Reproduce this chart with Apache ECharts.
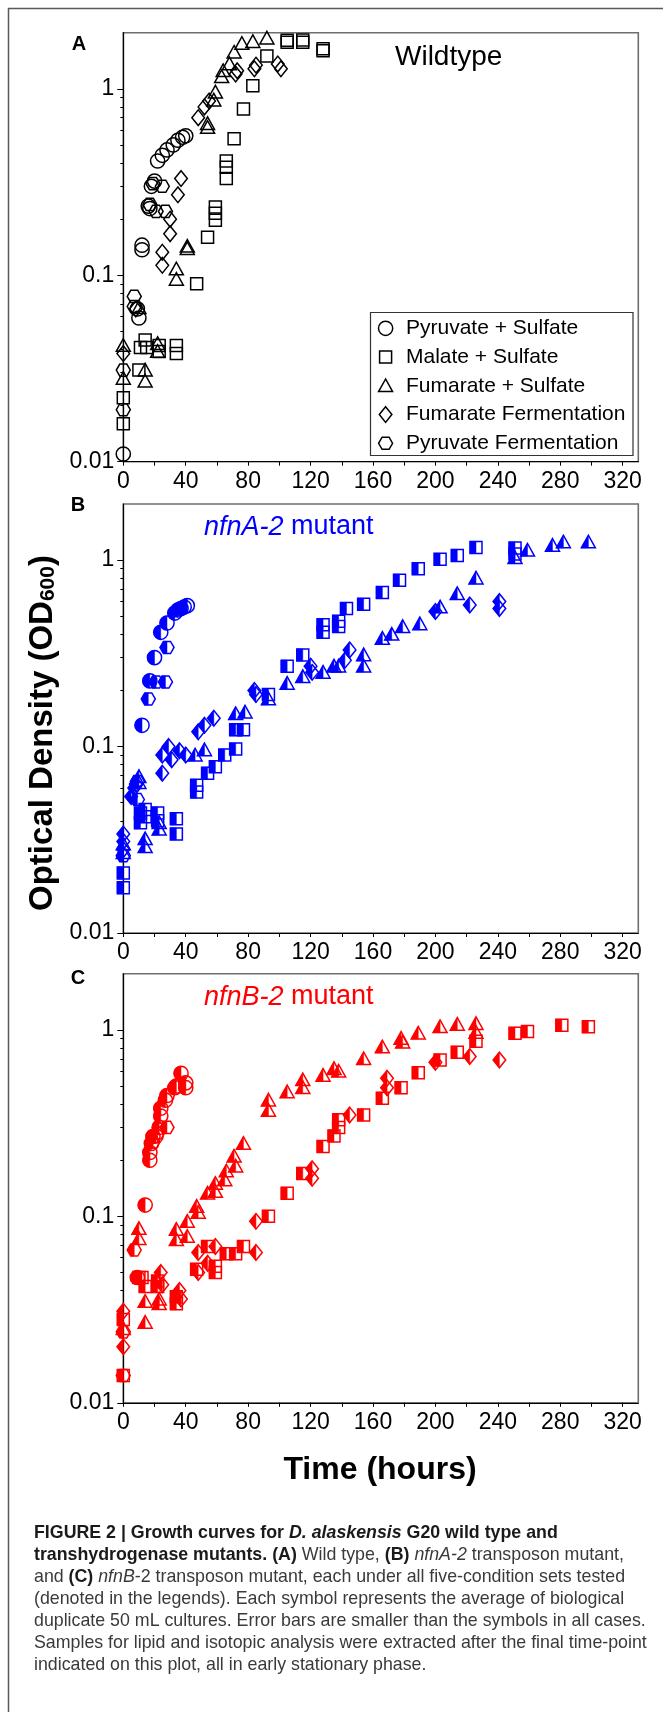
<!DOCTYPE html>
<html>
<head>
<meta charset="utf-8">
<script src="https://cdn.jsdelivr.net/npm/echarts@6/dist/echarts.min.js"></script>
<style>
  html, body { margin: 0; padding: 0; background: #ffffff; }
  #chart { width: 663px; height: 1712px; }
</style>
</head>
<body>
<div id="chart"></div>
<script>
// ---- axis ticks and labels ----
const xTickValues  = [0, 20, 40, 60, 80, 100, 120, 140, 160, 180, 200, 220, 240, 260, 280, 300, 320];
const xLabelValues = [0, 40, 80, 120, 160, 200, 240, 280, 320];
const yLabelValues = [0.01, 0.1, 1];
const yMinorValues = [0.02, 0.03, 0.04, 0.05, 0.06, 0.07, 0.08, 0.09, 0.2, 0.3, 0.4, 0.5, 0.6, 0.7, 0.8, 0.9];

// ---- growth conditions (categories) ----
const conditions = ['Pyruvate + Sulfate', 'Malate + Sulfate', 'Fumarate + Sulfate', 'Fumarate Fermentation', 'Pyruvate Fermentation'];
const markerKinds = ['circle', 'square', 'triangle', 'diamond', 'hexagon'];

// ---- (A) wild type: [time (h), OD600] ----
const wtPyruvateSulfate = [[0,0.011],[10,0.059],[9,0.066],[12,0.145],[12,0.137],[16,0.235],[17,0.228],[18,0.30],[20,0.32],[22,0.41],[25,0.44],[28,0.47],[32,0.50],[35,0.53],[38,0.55],[40,0.56]];
const wtMalateSulfate = [[0,0.016],[0,0.022],[10,0.031],[11,0.041],[14,0.045],[15,0.041],[23,0.039],[23,0.042],[34,0.042],[34,0.038],[47,0.09],[54,0.16],[59,0.197],[59,0.215],[59,0.232],[66,0.33],[66,0.38],[66,0.41],[71,0.54],[77,0.78],[83,1.04],[92,1.5],[105,1.82],[105,1.78],[115,1.83],[115,1.78],[128,1.64],[128,1.6]];
const wtFumarateSulfate = [[0,0.028],[0,0.042],[10,0.067],[14,0.031],[14,0.027],[22,0.043],[22,0.039],[34,0.108],[34,0.095],[41,0.143],[41,0.139],[54,0.62],[54,0.65],[58,0.87],[59,0.96],[63,1.16],[64,1.25],[68,1.36],[71,1.57],[76,1.75],[83,1.79],[92,1.87]];
const wtFumarateFermentation = [[0,0.038],[8,0.066],[25,0.133],[25,0.113],[30,0.167],[30,0.20],[35,0.27],[37,0.33],[48,0.70],[52,0.80],[55,0.86],[72,1.2],[73,1.25],[84,1.28],[85,1.34],[99,1.36],[101,1.28]];
const wtPyruvateFermentation = [[0,0.019],[0,0.031],[7,0.077],[7,0.068],[17,0.24],[19,0.31],[21,0.22],[25,0.30],[27,0.22]];

// ---- (B) nfnA-2 mutant ----
const nfnAPyruvateSulfate = [[12,0.13],[17,0.225],[20,0.30],[24,0.41],[28,0.46],[33,0.52],[35,0.54],[37,0.55],[39,0.56],[41,0.57]];
const nfnAMalateSulfate = [[0,0.021],[0,0.0175],[11,0.044],[11,0.039],[14,0.046],[14,0.042],[22,0.044],[22,0.04],[34,0.041],[34,0.034],[47,0.062],[47,0.057],[54,0.072],[59,0.078],[65,0.09],[72,0.097],[72,0.123],[77,0.123],[93,0.19],[105,0.27],[115,0.31],[128,0.45],[128,0.41],[138,0.47],[138,0.44],[143,0.55],[154,0.58],[166,0.67],[177,0.78],[189,0.9],[203,1.01],[214,1.06],[226,1.17],[251,1.16],[251,1.08]];
const nfnAFumarateSulfate = [[0,0.03],[0,0.027],[10,0.069],[10,0.064],[14,0.032],[14,0.029],[23,0.039],[23,0.036],[46,0.09],[52,0.096],[72,0.15],[78,0.153],[93,0.18],[105,0.218],[115,0.237],[128,0.25],[135,0.27],[138,0.27],[154,0.27],[154,0.31],[166,0.38],[172,0.4],[179,0.44],[190,0.455],[203,0.56],[214,0.66],[226,0.8],[251,1.03],[259,1.13],[275,1.2],[282,1.25],[298,1.25]];
const nfnAFumarateFermentation = [[0,0.034],[0,0.031],[0,0.028],[5,0.054],[7,0.06],[8,0.063],[25,0.09],[25,0.072],[29,0.1],[31,0.085],[36,0.095],[40,0.09],[48,0.12],[52,0.13],[58,0.142],[84,0.2],[85,0.19],[120,0.27],[121,0.25],[142,0.29],[145,0.33],[200,0.53],[222,0.575],[241,0.6],[241,0.55]];
const nfnAPyruvateFermentation = [[0,0.026],[9,0.052],[9,0.065],[16,0.18],[21,0.222],[27,0.222],[28,0.34]];

// ---- (C) nfnB-2 mutant ----
const nfnBPyruvateSulfate = [[9,0.047],[14,0.115],[17,0.2],[17,0.22],[18,0.246],[19,0.268],[21,0.27],[23,0.3],[24,0.345],[24,0.38],[27,0.42],[28,0.445],[33,0.49],[34,0.5],[37,0.585],[40,0.52],[40,0.49]];
const nfnBMalateSulfate = [[0,0.014],[0,0.028],[10,0.047],[12,0.047],[14,0.042],[22,0.045],[22,0.042],[34,0.037],[34,0.034],[47,0.052],[54,0.069],[59,0.05],[59,0.054],[66,0.063],[72,0.063],[77,0.069],[93,0.1],[105,0.133],[115,0.17],[128,0.237],[135,0.27],[138,0.33],[138,0.3],[154,0.35],[166,0.43],[178,0.49],[189,0.59],[203,0.69],[214,0.76],[226,0.87],[251,0.96],[259,0.98],[281,1.06],[298,1.04]];
const nfnBFumarateSulfate = [[0,0.025],[10,0.086],[10,0.076],[14,0.035],[14,0.027],[23,0.036],[23,0.034],[34,0.085],[34,0.075],[41,0.094],[41,0.078],[47,0.113],[48,0.105],[54,0.133],[59,0.15],[59,0.136],[65,0.157],[66,0.175],[71,0.21],[72,0.186],[77,0.246],[93,0.42],[93,0.37],[105,0.465],[115,0.54],[115,0.49],[128,0.57],[135,0.62],[138,0.6],[154,0.7],[166,0.81],[178,0.9],[179,0.86],[189,0.96],[203,1.04],[214,1.07],[226,1.08],[226,0.97]];
const nfnBFumarateFermentation = [[0,0.031],[0,0.02],[24,0.05],[25,0.043],[36,0.04],[37,0.036],[48,0.064],[48,0.05],[54,0.056],[59,0.069],[85,0.094],[85,0.064],[121,0.18],[121,0.16],[145,0.35],[169,0.55],[169,0.49],[200,0.67],[222,0.72],[241,0.69]];
const nfnBPyruvateFermentation = [[0,0.014],[0,0.024],[7,0.066],[19,0.25],[22,0.28],[28,0.30]];

const FONT = '"Liberation Sans", Arial, Helvetica, sans-serif';

const panels = [
  { color: '#000000', halfFill: false, top: 32.7,
    sets: [wtPyruvateSulfate, wtMalateSulfate, wtFumarateSulfate, wtFumarateFermentation, wtPyruvateFermentation] },
  { color: '#0000ff', halfFill: true, top: 504,
    sets: [nfnAPyruvateSulfate, nfnAMalateSulfate, nfnAFumarateSulfate, nfnAFumarateFermentation, nfnAPyruvateFermentation] },
  { color: '#ff0000', halfFill: true, top: 973.8,
    sets: [nfnBPyruvateSulfate, nfnBMalateSulfate, nfnBFumarateSulfate, nfnBFumarateFermentation, nfnBPyruvateFermentation] }
];

const PLOT_LEFT = 123.3, PLOT_W = 515, PLOT_H = 429;
const LW = 1.5;

// Marker outlines (optionally with the left half filled) around a pixel centre
function markerShapes(kind, cx, cy, color, half, z) {
  const line = { fill: 'none', stroke: color, lineWidth: LW };
  const solid = { fill: color, stroke: color, lineWidth: 0.5 };
  const out = [];
  if (kind === 'circle') {
    const r = 7.1;
    if (half) out.push({ type: 'sector', shape: { cx, cy, r0: 0, r, startAngle: Math.PI / 2, endAngle: Math.PI * 1.5 }, style: solid });
    out.push({ type: 'circle', shape: { cx, cy, r }, style: line });
  } else if (kind === 'square') {
    const a = 6;
    if (half) out.push({ type: 'rect', shape: { x: cx - a, y: cy - a, width: a, height: 2 * a }, style: solid });
    out.push({ type: 'rect', shape: { x: cx - a, y: cy - a, width: 2 * a, height: 2 * a }, style: line });
  } else if (kind === 'triangle') {
    const w = 7, t = 6.8, b = 5.8;
    if (half) out.push({ type: 'polygon', shape: { points: [[cx, cy - t], [cx - w, cy + b], [cx, cy + b]] }, style: solid });
    out.push({ type: 'polygon', shape: { points: [[cx, cy - t], [cx - w, cy + b], [cx + w, cy + b]] }, style: line });
  } else if (kind === 'diamond') {
    const w = 6.3, h = 7.8;
    if (half) out.push({ type: 'polygon', shape: { points: [[cx, cy - h], [cx - w, cy], [cx, cy + h]] }, style: solid });
    out.push({ type: 'polygon', shape: { points: [[cx, cy - h], [cx + w, cy], [cx, cy + h], [cx - w, cy]] }, style: line });
  } else {
    const r = 7, hh = r * 0.866;
    if (half) out.push({ type: 'polygon', shape: { points: [[cx, cy - hh], [cx - r / 2, cy - hh], [cx - r, cy], [cx - r / 2, cy + hh], [cx, cy + hh]] }, style: solid });
    out.push({ type: 'polygon', shape: { points: [[cx + r, cy], [cx + r / 2, cy - hh], [cx - r / 2, cy - hh], [cx - r, cy], [cx - r / 2, cy + hh], [cx + r / 2, cy + hh]] }, style: line });
  }
  if (z !== undefined) out.forEach(el => { el.z = z; });
  return out;
}

const grids = [], xAxes = [], yAxes = [], series = [];
panels.forEach((p, i) => {
  grids.push({ left: PLOT_LEFT, top: p.top, width: PLOT_W, height: PLOT_H, show: true,
    borderColor: '#6e6e6e', borderWidth: 1.6, backgroundColor: 'transparent', containLabel: false, outerBoundsMode: 'none' });
  xAxes.push({ gridIndex: i, type: 'value', min: 0, max: 330,
    axisLine: { show: true, onZero: false, lineStyle: { color: '#000', width: 1.2 } },
    axisTick: { show: true, length: 4, customValues: xTickValues, lineStyle: { color: '#000', width: 1 } },
    axisLabel: { customValues: xLabelValues, fontSize: 23, color: '#000', fontFamily: FONT, margin: 8 },
    splitLine: { show: false } });
  yAxes.push({ gridIndex: i, type: 'log', logBase: 10, min: 0.01, max: 2,
    axisLine: { show: true, onZero: false, lineStyle: { color: '#000', width: 1.2 } },
    axisTick: { show: true, length: 6, customValues: yLabelValues, lineStyle: { color: '#000', width: 1 } },
    axisLabel: { customValues: yLabelValues, fontSize: 23, color: '#000', fontFamily: FONT, margin: 9,
      formatter: v => String(v) },
    splitLine: { show: false } });
  yAxes.push({ gridIndex: i, type: 'log', logBase: 10, min: 0.01, max: 2, position: 'left',
    axisLine: { show: false },
    axisTick: { show: true, length: 3, customValues: yMinorValues, lineStyle: { color: '#000', width: 1 } },
    axisLabel: { show: false }, splitLine: { show: false } });
  p.sets.forEach((data, k) => {
    series.push({
      type: 'custom', name: conditions[k], coordinateSystem: 'cartesian2d',
      xAxisIndex: i, yAxisIndex: i * 2, data, clip: false, encode: { x: 0, y: 1 },
      itemStyle: { color: p.color }, z: 3,
      renderItem: (params, api) => {
        const pt = api.coord([api.value(0), api.value(1)]);
        return { type: 'group', children: markerShapes(markerKinds[k], pt[0], pt[1], p.color, p.halfFill) };
      }
    });
  });
});

const captionLines = [
  '{b|FIGURE 2 | Growth curves for }{bi|D. alaskensis}{b| G20 wild type and}',
  '{b|transhydrogenase mutants. (A)}{n| Wild type, }{b|(B)}{n| }{i|nfnA-2}{n| transposon mutant,}',
  '{n|and }{b|(C)}{n| }{i|nfnB}{n|-2 transposon mutant, each under all five-condition sets tested}',
  '{n|(denoted in the legends). Each symbol represents the average of biological}',
  '{n|duplicate 50 mL cultures. Error bars are smaller than the symbols in all cases.}',
  '{n|Samples for lipid and isotopic analysis were extracted after the final time-point}',
  '{n|indicated on this plot, all in early stationary phase.}'
];
const capSize = 17.8;
const capRich = {
  b:  { fontSize: capSize, fontFamily: FONT, fontWeight: 'bold', fill: '#1a1a1a' },
  bi: { fontSize: capSize, fontFamily: FONT, fontWeight: 'bold', fontStyle: 'italic', fill: '#1a1a1a' },
  n:  { fontSize: capSize, fontFamily: FONT, fill: '#3a3a3a' },
  i:  { fontSize: capSize, fontFamily: FONT, fontStyle: 'italic', fill: '#3a3a3a' }
};

const graphics = [
  { type: 'rect', silent: true, shape: { x: 8.5, y: 8.5, width: 700, height: 1740 },
    style: { fill: 'none', stroke: '#5a5a5a', lineWidth: 1.5 } },
  { type: 'text', x: 79, y: 44, style: { text: 'A', fontSize: 20, fontWeight: 'bold', fontFamily: FONT, fill: '#000', align: 'center', verticalAlign: 'middle' } },
  { type: 'text', x: 78, y: 505, style: { text: 'B', fontSize: 20, fontWeight: 'bold', fontFamily: FONT, fill: '#000', align: 'center', verticalAlign: 'middle' } },
  { type: 'text', x: 78, y: 978, style: { text: 'C', fontSize: 20, fontWeight: 'bold', fontFamily: FONT, fill: '#000', align: 'center', verticalAlign: 'middle' } },
  { type: 'text', x: 395, y: 57, style: { text: 'Wildtype', fontSize: 28, fontFamily: FONT, fill: '#000', align: 'left', verticalAlign: 'middle' } },
  { type: 'text', x: 204, y: 527, style: { text: '{i|nfnA-2}{n| mutant}', align: 'left', verticalAlign: 'middle',
      rich: { i: { fontSize: 27, fontFamily: FONT, fontStyle: 'italic', fill: '#0000ff' }, n: { fontSize: 27, fontFamily: FONT, fill: '#0000ff' } } } },
  { type: 'text', x: 204, y: 997, style: { text: '{i|nfnB-2}{n| mutant}', align: 'left', verticalAlign: 'middle',
      rich: { i: { fontSize: 27, fontFamily: FONT, fontStyle: 'italic', fill: '#ff0000' }, n: { fontSize: 27, fontFamily: FONT, fill: '#ff0000' } } } },
  { type: 'text', x: 39, y: 733, rotation: Math.PI / 2,
    style: { text: '{t|Optical Density (OD}{s|600}{t|)}', align: 'center', verticalAlign: 'middle',
      rich: { t: { fontSize: 33, fontWeight: 'bold', fontFamily: FONT, fill: '#000', lineHeight: 40, verticalAlign: 'bottom' },
              s: { fontSize: 21, fontWeight: 'bold', fontFamily: FONT, fill: '#000', lineHeight: 22, verticalAlign: 'bottom' } } } },
  { type: 'text', x: 380, y: 1470, style: { text: 'Time (hours)', fontSize: 32, fontWeight: 'bold', fontFamily: FONT, fill: '#000', align: 'center', verticalAlign: 'middle' } }
];

// Legend box for the wild-type panel, using the same marker shapes as the plot
const LEG = { x: 370, y: 312, w: 262.5, h: 143, symX: 385.6, textX: 406, row0: 328.3, rowGap: 28.75 };
graphics.push({ type: 'rect', silent: true, shape: { x: LEG.x + 0.5, y: LEG.y + 0.5, width: LEG.w, height: LEG.h },
  style: { fill: '#ffffff', stroke: '#333333', lineWidth: 1.2 }, z: 10 });
conditions.forEach((name, k) => {
  const cy = LEG.row0 + k * LEG.rowGap;
  graphics.push({ type: 'group', silent: true, z: 11, children: markerShapes(markerKinds[k], LEG.symX, cy, '#000000', false, 11) });
  graphics.push({ type: 'text', silent: true, z: 11, x: LEG.textX, y: cy,
    style: { text: name, fontSize: 21, fontFamily: FONT, fill: '#000', align: 'left', verticalAlign: 'middle' } });
});

captionLines.forEach((t, j) => {
  graphics.push({ type: 'text', x: 34, y: 1533.3 + j * 22.05,
    style: { text: t, rich: capRich, align: 'left', verticalAlign: 'middle' } });
});

const chart = echarts.init(document.getElementById('chart'), null, { renderer: 'canvas', width: 663, height: 1712 });
chart.setOption({
  backgroundColor: '#ffffff',
  animation: false,
  grid: grids,
  xAxis: xAxes,
  yAxis: yAxes,
  graphic: graphics,
  series
});
</script>
</body>
</html>
